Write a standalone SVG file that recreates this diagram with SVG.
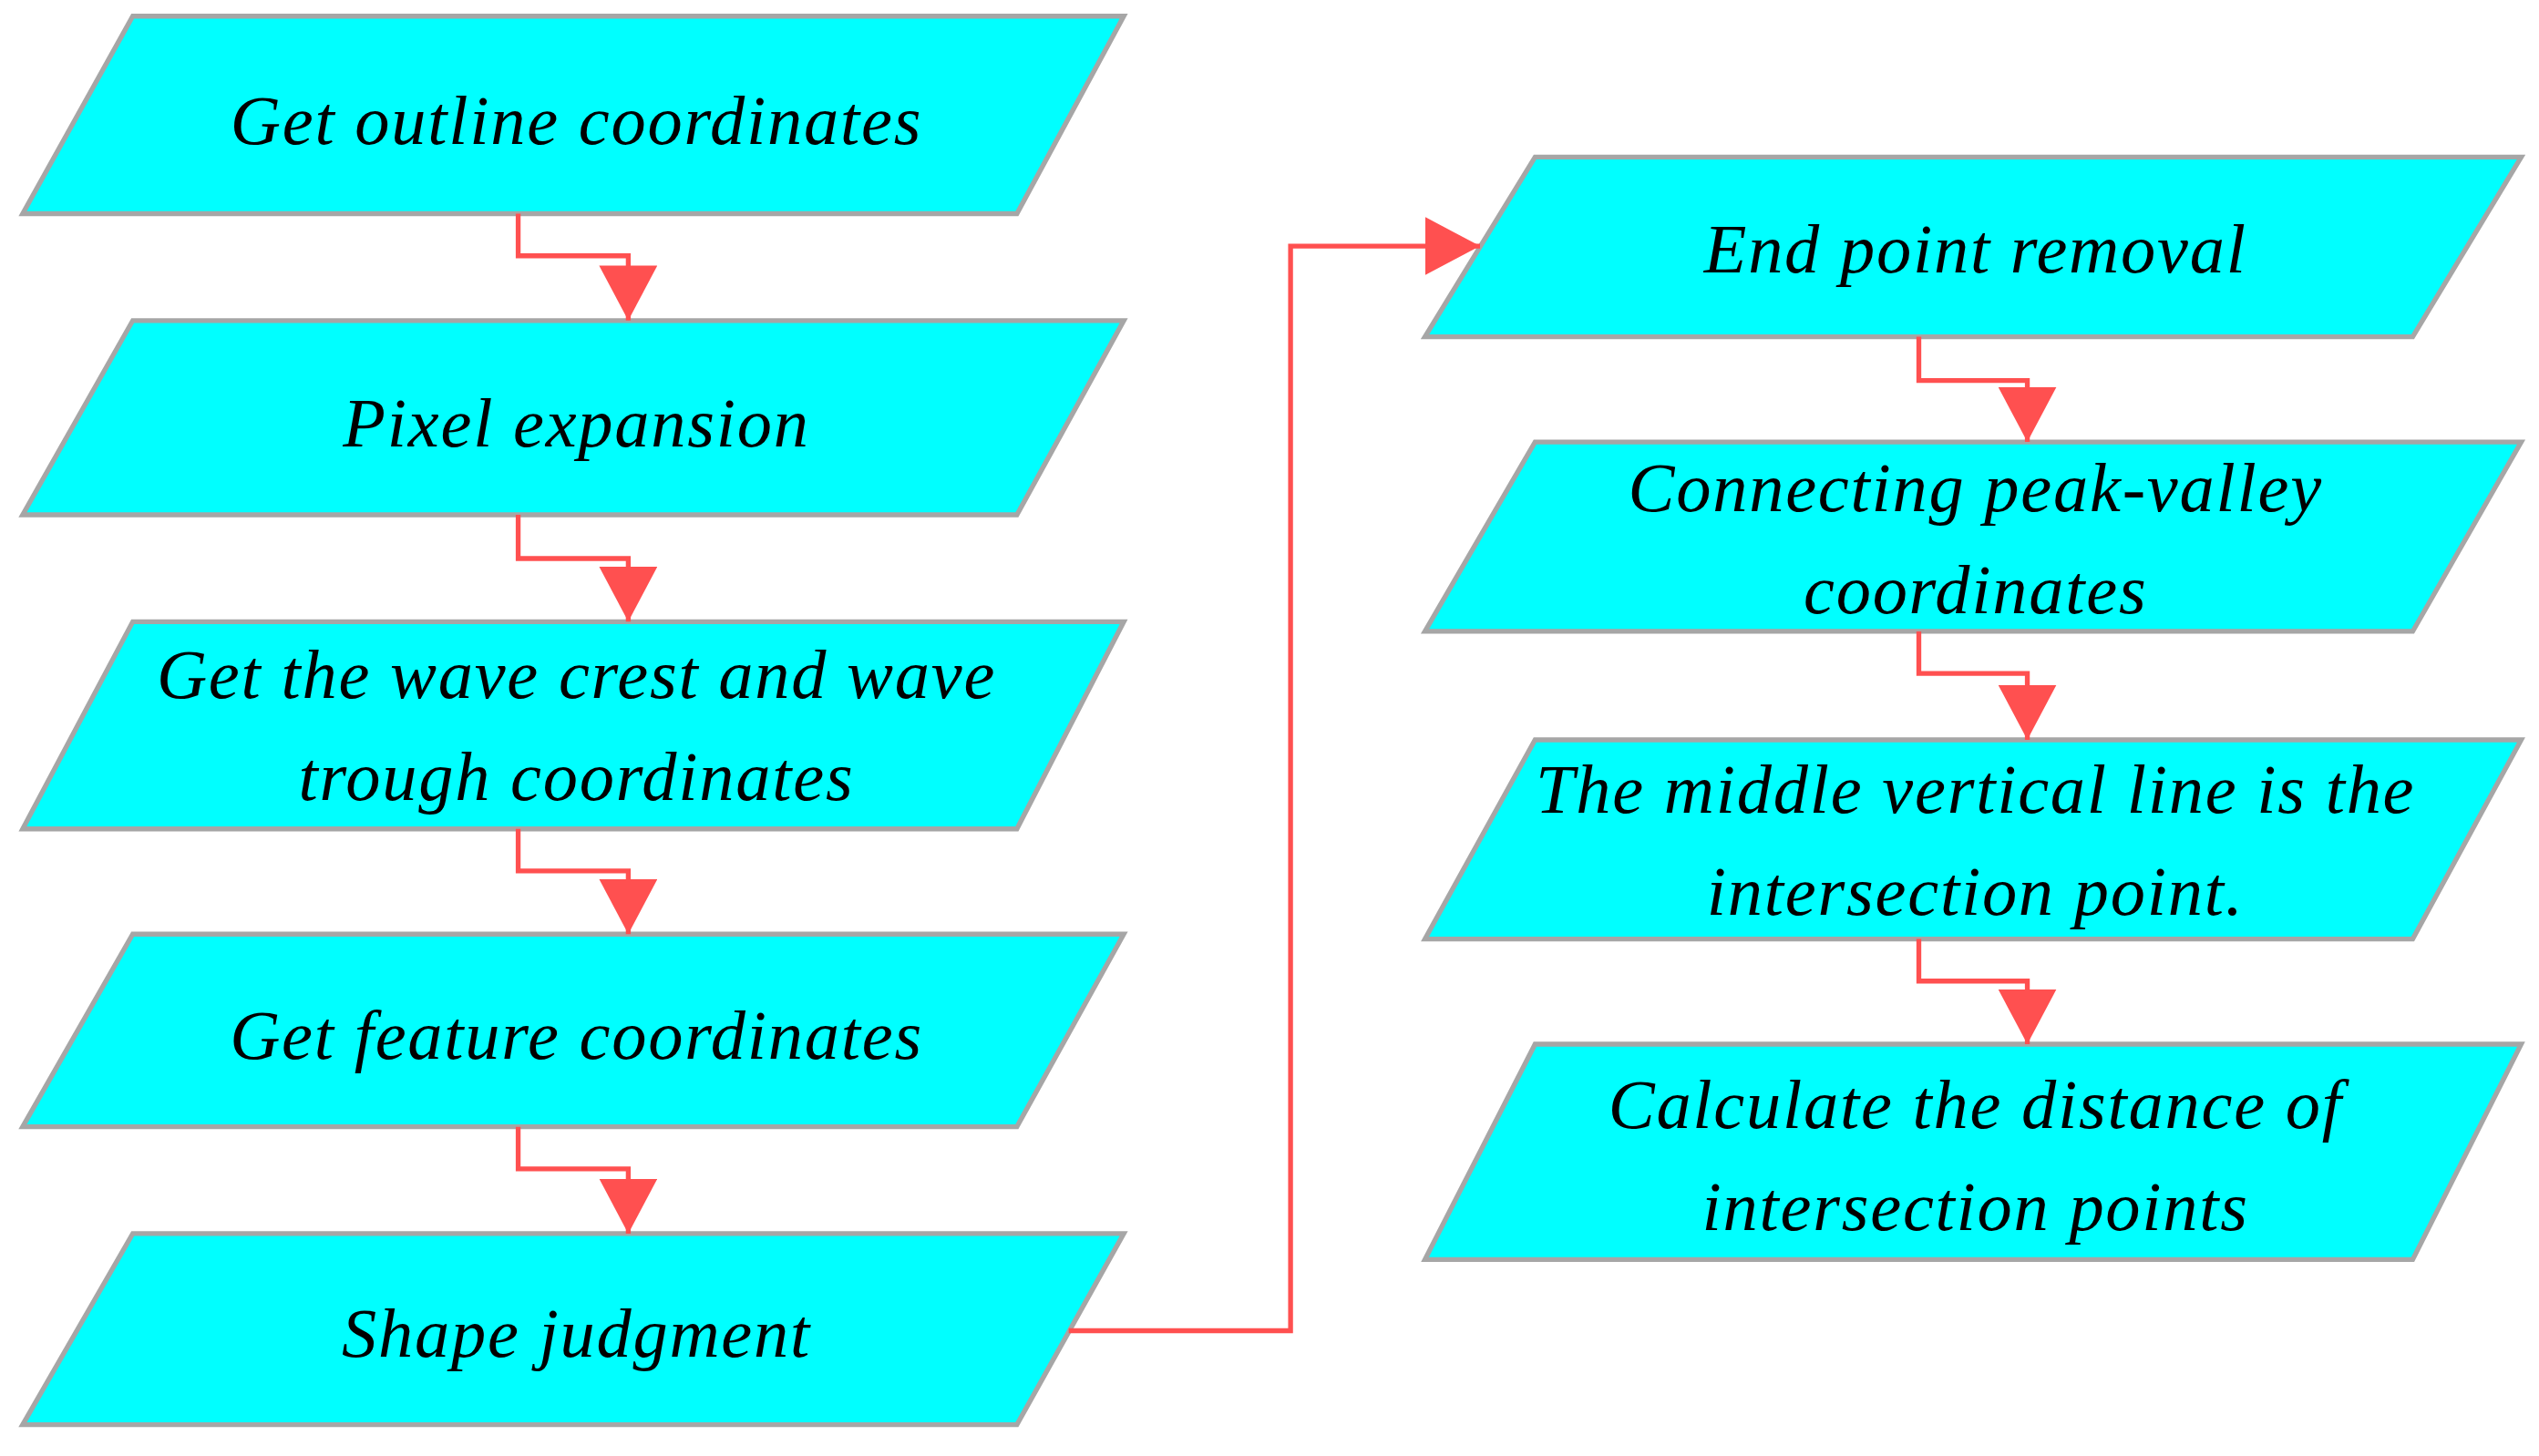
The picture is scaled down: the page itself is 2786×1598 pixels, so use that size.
<svg xmlns="http://www.w3.org/2000/svg" width="2786" height="1598" viewBox="0 0 2786 1598">
<style>
.b{fill:#00FFFF;stroke:#A6A6A6;stroke-width:3}
.t{font-family:"Liberation Serif",serif;font-style:italic;font-size:43px;fill:#000;text-anchor:middle;letter-spacing:1px}
.c{fill:none;stroke:#FF5050;stroke-width:3}
</style>
<defs>
<marker id="a" markerUnits="userSpaceOnUse" markerWidth="36" markerHeight="36" refX="34" refY="18" orient="auto">
<path d="M0,0 L34,18 L0,36 Z" fill="#FF5050"/>
</marker>
</defs>
<rect width="2786" height="1598" fill="#fff"/>
<g transform="scale(1.7768)">
<g id="n1"><polygon class="b" points="82,10 694,10 628,132 14,132"/><text class="t" x="356" y="89">Get outline coordinates</text></g>
<g id="n2"><polygon class="b" points="82,198 694,198 628,318 14,318"/><text class="t" x="356" y="276">Pixel expansion</text></g>
<g id="n3"><polygon class="b" points="82,384 694,384 628,512 14,512"/><text class="t" x="356" y="431">Get the wave crest and wave</text><text class="t" x="356" y="494">trough coordinates</text></g>
<g id="n4"><polygon class="b" points="82,577 694,577 628,696 14,696"/><text class="t" x="356" y="654">Get feature coordinates</text></g>
<g id="n5"><polygon class="b" points="82,762 694,762 628,880 14,880"/><text class="t" x="356" y="838">Shape judgment</text></g>
<g id="n6"><polygon class="b" points="948,97 1557,97 1490,208 880,208"/><text class="t" x="1220" y="168">End point removal</text></g>
<g id="n7"><polygon class="b" points="948,273 1557,273 1490,390 880,390"/><text class="t" x="1220" y="316">Connecting peak-valley</text><text class="t" x="1220" y="379">coordinates</text></g>
<g id="n8"><polygon class="b" points="948,457 1557,457 1490,580 880,580"/><text class="t" x="1220" y="502">The middle vertical line is the</text><text class="t" x="1220" y="565">intersection point.</text></g>
<g id="n9"><polygon class="b" points="948,645 1557,645 1490,778 880,778"/><text class="t" x="1220" y="697">Calculate the  distance of</text><text class="t" x="1220" y="760">intersection points</text></g>
</g>
<g id="connectors" transform="scale(1.7768)">
<path class="c" d="M320,132 V158 H388 V198" marker-end="url(#a)"/>
<path class="c" d="M320,318 V345 H388 V384" marker-end="url(#a)"/>
<path class="c" d="M320,512 V538 H388 V577" marker-end="url(#a)"/>
<path class="c" d="M320,696 V722 H388 V762" marker-end="url(#a)"/>
<path class="c" d="M660,822 H797 V152 H914" marker-end="url(#a)"/>
<path class="c" d="M1185,208 V235 H1252 V273" marker-end="url(#a)"/>
<path class="c" d="M1185,390 V416 H1252 V457" marker-end="url(#a)"/>
<path class="c" d="M1185,580 V606 H1252 V645" marker-end="url(#a)"/>
</g>
</svg>
